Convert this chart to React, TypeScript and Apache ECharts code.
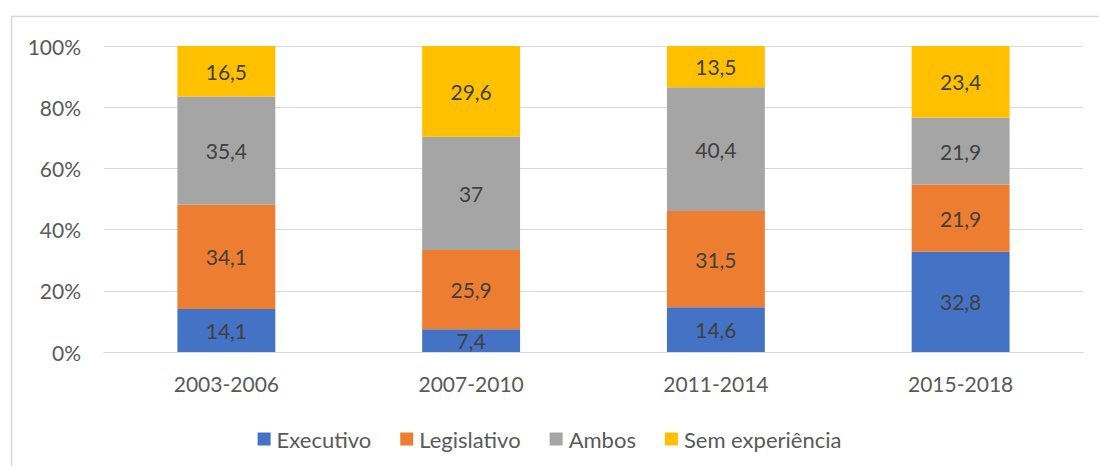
import React, { useEffect, useRef } from "react";
import * as echarts from "echarts";

const categories = ["2003-2006", "2007-2010", "2011-2014", "2015-2018"];
const executivo = [14.1, 7.4, 14.6, 32.8];
const legislativo = [34.1, 25.9, 31.5, 21.9];
const ambos = [35.4, 37, 40.4, 21.9];
const semExperiencia = [16.5, 29.6, 13.5, 23.4];
const yTicks = [0, 20, 40, 60, 80, 100];

const seriesDefs = [
  { name: "Executivo", data: executivo, color: "#4472C4" },
  { name: "Legislativo", data: legislativo, color: "#ED7D31" },
  { name: "Ambos", data: ambos, color: "#A5A5A5" },
  { name: "Sem experiência", data: semExperiencia, color: "#FFC000" },
];

const FONT = "Lato, 'Open Sans', sans-serif";

export default function App() {
  const ref = useRef<HTMLDivElement>(null);
  useEffect(() => {
    if (!ref.current) return;
    const chart = echarts.init(ref.current, null, { renderer: "svg" });
    const totals = categories.map((_, i) =>
      seriesDefs.reduce((s, d) => s + d.data[i], 0)
    );
    chart.setOption({
      animation: false,
      backgroundColor: "#ffffff",
      textStyle: { fontFamily: FONT },
      graphic: [
        {
          type: "rect",
          shape: { x: 11.5, y: 16.5, width: 1100, height: 460 },
          style: { fill: "none", stroke: "#d9d9d9", lineWidth: 1.5 },
          silent: true,
          z: -10,
        },
      ],
      grid: { left: 104, right: 16, top: 46, bottom: 114 },
      legend: {
        data: seriesDefs.map((d) => d.name),
        top: 423,
        left: "center",
        itemWidth: 13,
        itemHeight: 13,
        itemGap: 29,
        icon: "rect",
        textStyle: { fontFamily: FONT, fontSize: 22, color: "#595959", padding: [0, 0, 0, 1] },
      },
      xAxis: {
        type: "category",
        data: categories,
        axisLine: { show: true, lineStyle: { color: "#d9d9d9", width: 1 } },
        axisTick: { show: false },
        axisLabel: { fontFamily: FONT, fontSize: 21, color: "#595959", margin: 21 },
      },
      yAxis: {
        type: "value",
        min: yTicks[0],
        max: yTicks[yTicks.length - 1],
        interval: 20,
        axisLine: { show: false },
        axisTick: { show: false },
        splitLine: { lineStyle: { color: "#d9d9d9", width: 1 } },
        axisLabel: {
          fontFamily: FONT,
          fontSize: 21,
          color: "#595959",
          margin: 23,
          formatter: (v: number) => `${v}%`,
        },
      },
      series: seriesDefs.map((d) => ({
        name: d.name,
        type: "bar",
        stack: "total",
        barWidth: "40%",
        itemStyle: { color: d.color },
        data: d.data.map((v, i) => (v / totals[i]) * 100),
        label: {
          show: true,
          position: "inside",
          fontFamily: FONT,
          fontSize: 21,
          color: "#404040",
          formatter: (p: any) => String(d.data[p.dataIndex]).replace(".", ","),
        },
      })),
    });
    return () => chart.dispose();
  }, []);
  return (
    <div
      ref={ref}
      style={{ position: "absolute", left: 0, top: 0, width: 1099, height: 466 }}
    />
  );
}
